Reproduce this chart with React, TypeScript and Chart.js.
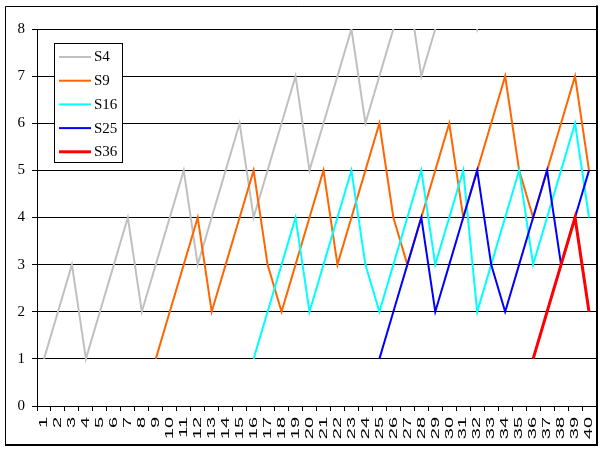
import { useEffect, useRef } from 'react';
import { Chart, registerables } from 'chart.js';

Chart.register(...registerables);

const categories = [
  '1', '2', '3', '4', '5', '6', '7', '8', '9', '10',
  '11', '12', '13', '14', '15', '16', '17', '18', '19', '20',
  '21', '22', '23', '24', '25', '26', '27', '28', '29', '30',
  '31', '32', '33', '34', '35', '36', '37', '38', '39', '40',
];

const s4 = [1, 2, 3, 1, 2, 3, 4, 2, 3, 4, 5, 3, 4, 5, 6, 4, 5, 6, 7, 5, 6, 7, 8, 6, 7, 8, 9, 7, 8, 9, 10, 8, 9, 10, 11, 9, 10, 11, 12, 10];
const s9 = [null, null, null, null, null, null, null, null, 1, 2, 3, 4, 2, 3, 4, 5, 3, 2, 3, 4, 5, 3, 4, 5, 6, 4, 3, 4, 5, 6, 4, 5, 6, 7, 5, 4, 5, 6, 7, 5];
const s16 = [null, null, null, null, null, null, null, null, null, null, null, null, null, null, null, 1, 2, 3, 4, 2, 3, 4, 5, 3, 2, 3, 4, 5, 3, 4, 5, 2, 3, 4, 5, 3, 4, 5, 6, 4];
const s25 = [null, null, null, null, null, null, null, null, null, null, null, null, null, null, null, null, null, null, null, null, null, null, null, null, 1, 2, 3, 4, 2, 3, 4, 5, 3, 2, 3, 4, 5, 3, 4, 5];
const s36 = [null, null, null, null, null, null, null, null, null, null, null, null, null, null, null, null, null, null, null, null, null, null, null, null, null, null, null, null, null, null, null, null, null, null, null, 1, 2, 3, 4, 2];

const seriesNames = ['S4', 'S9', 'S16', 'S25', 'S36'];
const seriesColors = ['#C0C0C0', '#FF6600', '#00FFFF', '#0000FF', '#FF0000'];
const seriesWidths = [2, 2, 2, 2, 3];
const yMin = 0;
const yMax = 8;
const yStep = 1;

const SERIF = '"Liberation Serif", "Times New Roman", serif';
const SANS = '"Liberation Sans", Arial, sans-serif';

const decorPlugin = {
  id: 'decor',
  beforeDraw(chart: any) {
    const ctx = chart.ctx;
    ctx.save();
    ctx.fillStyle = '#ffffff';
    ctx.fillRect(0, 0, chart.width, chart.height);
    ctx.restore();
  },
  afterDraw(chart: any) {
    const ctx = chart.ctx;
    const xScale = chart.scales.x;
    // x labels (stretched, rotated)
    ctx.save();
    ctx.fillStyle = '#000';
    ctx.font = '10px ' + SANS;
    ctx.textAlign = 'right';
    ctx.textBaseline = 'middle';
    const labels = chart.data.labels as string[];
    labels.forEach((lab, i) => {
      const x = xScale.getPixelForValue(i);
      ctx.save();
      ctx.translate(x + 0.5, chart.chartArea.bottom + 11);
      ctx.rotate(-Math.PI / 2);
      ctx.scale(2.0, 1);
      ctx.fillText(lab, 0, 0);
      ctx.restore();
    });
    ctx.restore();

    // legend
    ctx.save();
    const lx = 54.5, ly = 43.5, lw = 68, lh = 119;
    ctx.fillStyle = '#fff';
    ctx.fillRect(lx, ly, lw, lh);
    ctx.strokeStyle = '#000';
    ctx.lineWidth = 1;
    ctx.strokeRect(lx, ly, lw, lh);
    ctx.font = '15px ' + SERIF;
    ctx.textAlign = 'left';
    ctx.textBaseline = 'middle';
    chart.data.datasets.forEach((ds: any, i: number) => {
      const y = 57 + i * 23.7;
      ctx.strokeStyle = ds.borderColor;
      ctx.lineWidth = ds.borderWidth;
      ctx.beginPath();
      ctx.moveTo(59, y);
      ctx.lineTo(91, y);
      ctx.stroke();
      ctx.fillStyle = '#000';
      ctx.fillText(ds.label, 94, y + 0.5);
    });
    ctx.restore();

    // outer frame
    ctx.save();
    ctx.strokeStyle = '#000';
    ctx.lineWidth = 1;
    ctx.beginPath();
    ctx.moveTo(5.5, 445.5);
    ctx.lineTo(5.5, 6.5);
    ctx.lineTo(597, 6.5);
    ctx.stroke();
    ctx.lineWidth = 2;
    ctx.beginPath();
    ctx.moveTo(597, 5.5);
    ctx.lineTo(597, 445);
    ctx.lineTo(5, 445);
    ctx.stroke();
    ctx.restore();
  },
};

export default function App() {
  const ref = useRef<HTMLCanvasElement | null>(null);
  useEffect(() => {
    const canvas = ref.current;
    if (!canvas) return;
    const allSeries = [s4, s9, s16, s25, s36];
    const chart = new Chart(canvas, {
      type: 'line',
      data: {
        labels: categories,
        datasets: allSeries.map((d, i) => ({
          label: seriesNames[i],
          data: d,
          borderColor: seriesColors[i],
          backgroundColor: seriesColors[i],
          borderWidth: seriesWidths[i],
          pointRadius: 0,
          pointHoverRadius: 0,
          tension: 0,
          fill: false,
          spanGaps: false,
          order: 5 - i,
        })),
      },
      options: {
        animation: false,
        responsive: false,
        devicePixelRatio: 1,
        events: [],
        layout: { padding: { left: 0, right: 7, top: 29, bottom: 0 } },
        plugins: {
          legend: { display: false },
          tooltip: { enabled: false },
          title: { display: false },
        },
        scales: {
          x: {
            type: 'category',
            offset: true,
            grid: {
              display: true,
              drawOnChartArea: false,
              drawTicks: true,
              tickLength: 5,
              color: '#000',
              offset: true,
            },
            border: { display: true, color: '#000', width: 1 },
            ticks: { display: false, autoSkip: false },
            afterFit: (scale: any) => {
              scale.height = 45;
            },
          },
          y: {
            min: yMin,
            max: yMax,
            ticks: {
              stepSize: yStep,
              color: '#000',
              font: { family: SERIF, size: 15 },
              padding: 7,
            },
            grid: {
              color: '#000',
              lineWidth: 1,
              tickLength: 5,
              drawTicks: true,
            },
            border: { display: true, color: '#000', width: 1 },
            afterFit: (scale: any) => {
              scale.width = 37;
            },
          },
        },
      },
      plugins: [decorPlugin],
    } as any);
    return () => {
      chart.destroy();
    };
  }, []);
  return (
    <div style={{ position: 'fixed', left: 0, top: 0, width: 603, height: 451, background: '#fff' }}>
      <canvas ref={ref} width={603} height={451} style={{ display: 'block', width: 603, height: 451 }} />
    </div>
  );
}
